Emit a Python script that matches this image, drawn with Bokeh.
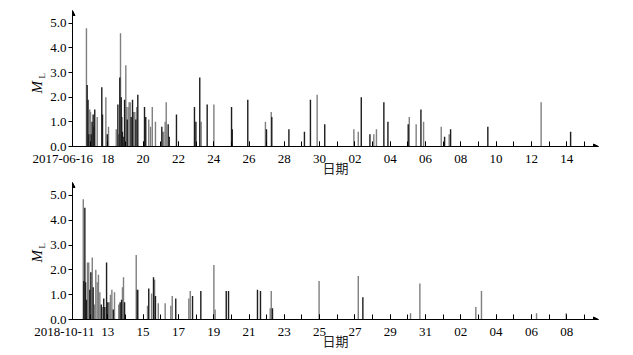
from bokeh.plotting import figure
from bokeh.layouts import column
from bokeh.models import FixedTicker, Range1d, Title, Arrow, NormalHead
from bokeh.embed import file_html
from bokeh.resources import INLINE

# ---------------- data (time in days since the first date, magnitude ML) ----------------
top_start_label = "2017-06-16"
top_tick_days = [0, 2, 4, 6, 8, 10, 12, 14, 16, 18, 20, 22, 24, 26, 28]
top_tick_labels = [top_start_label, "18", "20", "22", "24", "26", "28", "30", "02", "04", "06", "08", "10", "12", "14"]

top_dark_t = [0.83, 0.88, 0.92, 1.06, 1.11, 1.17, 1.21, 1.26, 1.66, 1.70, 1.97, 2.57, 2.68, 2.76, 2.79,
              2.83, 2.87, 2.95, 3.10, 3.32, 3.40, 3.59, 3.70, 4.08, 4.15, 5.06, 5.42, 5.48, 5.89, 6.91,
              6.99, 7.21, 7.63, 9.01, 9.05, 9.93, 10.99, 11.29, 12.26, 13.14, 13.48, 14.29, 16.36,
              16.85, 17.64, 17.87, 19.02, 19.74, 21.08, 21.42, 23.53, 28.22]
top_dark_ml = [2.5, 1.9, 0.5, 0.5, 1.0, 1.3, 0.8, 1.5, 2.4, 1.3, 0.5, 1.7, 2.8, 2.0, 1.2,
               0.6, 0.4, 1.9, 1.1, 1.2, 1.9, 1.1, 2.1, 1.6, 1.2, 0.8, 0.9, 0.4, 1.3, 1.6,
               1.0, 2.8, 1.7, 1.6, 0.7, 1.9, 0.7, 1.2, 0.7, 0.6, 1.9, 0.9, 2.0,
               0.5, 1.8, 1.0, 0.9, 1.5, 0.4, 0.7, 0.8, 0.6]
top_gray_t = [0.79, 0.98, 1.02, 1.40, 1.89, 2.04, 2.48, 2.62, 2.72, 3.02, 3.06, 3.15, 3.21, 3.27,
              3.46, 3.53, 3.64, 4.32, 4.42, 4.52, 4.70, 5.12, 5.17, 5.25, 5.31, 7.29, 8.01, 10.93,
              11.26, 13.86, 15.94, 16.19, 17.07, 17.22, 19.08, 19.47, 19.89, 20.89, 21.34, 26.55]
top_gray_ml = [4.8, 1.5, 1.4, 1.2, 2.0, 0.8, 0.7, 0.5, 4.6, 3.3, 1.6, 1.6, 1.8, 1.8,
               1.4, 1.4, 1.6, 1.1, 0.8, 1.6, 1.0, 0.6, 0.6, 1.0, 1.8, 1.0, 1.7, 1.0,
               1.4, 2.1, 0.7, 0.6, 0.5, 0.7, 1.2, 0.9, 1.0, 0.8, 0.5, 1.8]

bot_start_label = "2018-10-11"
bot_tick_days = [0, 2, 4, 6, 8, 10, 12, 14, 16, 18, 20, 22, 24, 26, 28]
bot_tick_labels = [bot_start_label, "13", "15", "17", "19", "21", "23", "25", "27", "29", "31", "02", "04", "06", "08"]

bot_dark_t = [0.64, 0.70, 0.74, 0.79, 0.98, 1.04, 1.17, 1.63, 1.77, 1.83, 1.93, 2.00, 2.31, 2.70,
              2.78, 2.95, 3.67, 4.32, 4.59, 4.70, 5.85, 6.80, 7.27, 8.71, 8.84, 10.48, 10.65,
              11.33, 16.45]
bot_dark_ml = [1.55, 4.5, 1.5, 0.8, 1.2, 1.9, 1.3, 0.6, 0.85, 0.5, 2.3, 0.7, 0.4, 0.7,
               0.8, 0.7, 1.2, 1.25, 1.7, 0.95, 0.85, 0.95, 1.15, 1.15, 1.15, 1.2, 1.15,
               0.45, 0.9]
bot_gray_t = [0.61, 0.85, 0.92, 1.12, 1.25, 1.32, 1.40, 1.47, 1.55, 1.70, 2.08, 2.15, 2.23, 2.38,
              2.62, 2.83, 2.89, 3.61, 3.72, 4.25, 4.48, 4.65, 4.86, 5.25, 5.57, 5.65, 6.59, 6.67,
              8.01, 8.08, 11.20, 11.26, 13.97, 16.19, 19.15, 19.68, 22.85, 23.17, 26.29, 27.97]
bot_gray_ml = [4.85, 2.3, 2.3, 2.5, 0.6, 2.0, 1.5, 1.8, 1.1, 0.5, 0.7, 1.0, 1.2, 1.1,
               0.6, 1.3, 1.7, 2.6, 1.2, 0.55, 1.05, 1.6, 0.65, 0.65, 0.55, 0.95, 0.85, 1.15,
               2.2, 0.4, 0.45, 1.15, 1.55, 1.75, 0.25, 1.45, 0.5, 1.15, 0.25, 0.25]

minor_days = list(range(0, 30))
y_ticks = [0, 1, 2, 3, 4, 5]
y_tick_labels = ["0.0", "1.0", "2.0", "3.0", "4.0", "5.0"]
x_label = "日期"
y_label_main = "M"
y_label_sub = "L"

DARK = "#1e1e1e"
GRAY = "#808080"
SERIF = "Liberation Serif, Times New Roman, serif"
NBSP = "\u00a0"


def make_fig(dark_t, dark_ml, gray_t, gray_ml, ticks, labels, pad, frame_h, b_top,
             m_off, l_off, x_end, y_end):
    p = figure(frame_width=526, frame_height=frame_h, output_backend="svg", toolbar_location=None,
               x_range=Range1d(0, x_end), y_range=Range1d(0, y_end),
               min_border_left=72, min_border_right=35, min_border_top=b_top,
               min_border_bottom=0, background_fill_color="white", border_fill_color="white")
    p.outline_line_color = None
    p.xgrid.visible = False
    p.ygrid.visible = False

    p.vbar(x=gray_t, top=gray_ml, width=0.08, fill_color=GRAY, line_color=None)
    p.vbar(x=dark_t, top=dark_ml, width=0.08, fill_color=DARK, line_color=None)

    shown = list(labels)
    shown[0] = shown[0] + NBSP * pad  # the full-date label sits left of its tick
    xa = p.xaxis[0]
    xa.ticker = FixedTicker(ticks=ticks, minor_ticks=minor_days)
    xa.major_label_overrides = {t: l for t, l in zip(ticks, shown)}
    xa.major_tick_in = 5
    xa.major_tick_out = 0
    xa.minor_tick_in = 5
    xa.minor_tick_out = 0
    xa.major_label_standoff = 4
    xa.major_label_text_font = SERIF
    xa.major_label_text_font_size = "13px"
    xa.major_label_text_color = "black"
    xa.axis_line_color = "black"
    xa.major_tick_line_color = "black"
    xa.minor_tick_line_color = "black"
    xa.axis_label = x_label
    xa.axis_label_text_font = "Noto Sans CJK SC"
    xa.axis_label_text_font_style = "normal"
    xa.axis_label_text_font_size = "13px"
    xa.axis_label_text_color = "#222222"
    xa.axis_label_standoff = -11

    ya = p.yaxis[0]
    ya.ticker = FixedTicker(ticks=y_ticks)
    ya.major_label_overrides = {t: l for t, l in zip(y_ticks, y_tick_labels)}
    ya.major_tick_in = 0
    ya.major_tick_out = 4
    ya.minor_tick_out = 0
    ya.minor_tick_in = 0
    ya.major_label_standoff = 2
    ya.major_label_text_font = SERIF
    ya.major_label_text_font_size = "13px"
    ya.major_label_text_color = "black"
    ya.axis_line_color = "black"
    ya.major_tick_line_color = "black"

    # y-axis title  M_L : subscript nearer the axis and higher, italic M overlapping into it
    p.add_layout(Title(text=y_label_sub, text_font=SERIF, text_font_size="9px",
                       text_font_style="normal", align="left", vertical_align="middle",
                       offset=l_off, standoff=0, text_color="black"), "left")
    p.add_layout(Title(text=y_label_main, text_font=SERIF, text_font_size="15px",
                       text_font_style="italic", align="left", vertical_align="bottom",
                       offset=m_off, standoff=-19, text_color="black"), "left")

    head = dict(size=5, fill_color="black", line_color="black")
    p.add_layout(Arrow(end=NormalHead(**head), x_start=x_end - 0.3, x_end=x_end,
                       y_start=0, y_end=0, line_color="black", line_width=1))
    p.add_layout(Arrow(end=NormalHead(**head), x_start=0, x_end=0,
                       y_start=y_end - 0.2, y_end=y_end, line_color="black", line_width=1))
    return p


p1 = make_fig(top_dark_t, top_dark_ml, top_gray_t, top_gray_ml, top_tick_days, top_tick_labels,
              6, 136, 10, 53, 68, 29.8, 5.52)
p2 = make_fig(bot_dark_t, bot_dark_ml, bot_gray_t, bot_gray_ml, bot_tick_days, bot_tick_labels,
              5, 137, 3, 57, 71, 29.8, 5.52)

layout = column(p1, p2, spacing=0)
open("out.html", "w").write(file_html(layout, INLINE))
